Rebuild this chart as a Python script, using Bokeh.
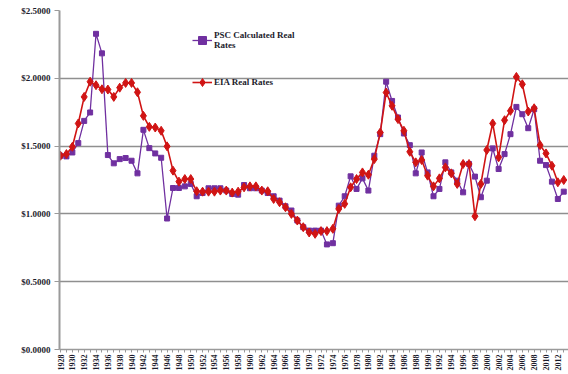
from bokeh.plotting import figure
from bokeh.models import (ColumnDataSource, FixedTicker, NumeralTickFormatter,
                          Legend, LegendItem)
from bokeh.embed import file_html
from bokeh.resources import INLINE
import math

years = list(range(1928, 2014))

psc_real = [1.429, 1.424, 1.453, 1.522, 1.686, 1.748, 2.328, 2.184, 1.434, 1.373,
            1.404, 1.412, 1.392, 1.299, 1.620, 1.485, 1.446, 1.414, 0.966, 1.191,
            1.191, 1.203, 1.221, 1.130, 1.154, 1.189, 1.189, 1.189, 1.172, 1.147,
            1.142, 1.213, 1.189, 1.189, 1.172, 1.154, 1.130, 1.098, 1.056, 1.025,
            0.951, 0.902, 0.877, 0.877, 0.877, 0.775, 0.784, 1.061, 1.130, 1.277,
            1.184, 1.262, 1.172, 1.429, 1.588, 1.975, 1.833, 1.711, 1.593, 1.507,
            1.299, 1.453, 1.306, 1.130, 1.184, 1.380, 1.306, 1.245, 1.159, 1.368,
            1.275, 1.123, 1.245, 1.483, 1.331, 1.441, 1.588, 1.789, 1.735, 1.632,
            1.772, 1.392, 1.360, 1.238, 1.110, 1.164]

eia_real = [1.429, 1.441, 1.495, 1.667, 1.863, 1.975, 1.949, 1.919, 1.917, 1.863,
            1.931, 1.966, 1.966, 1.897, 1.723, 1.642, 1.637, 1.613, 1.498, 1.319,
            1.238, 1.257, 1.257, 1.167, 1.164, 1.164, 1.164, 1.172, 1.172, 1.157,
            1.164, 1.196, 1.203, 1.203, 1.172, 1.167, 1.110, 1.086, 1.049, 1.000,
            0.951, 0.902, 0.863, 0.853, 0.873, 0.873, 0.890, 1.037, 1.074, 1.196,
            1.257, 1.306, 1.289, 1.404, 1.600, 1.895, 1.797, 1.699, 1.613, 1.458,
            1.380, 1.397, 1.282, 1.203, 1.262, 1.343, 1.299, 1.221, 1.368, 1.368,
            0.983, 1.221, 1.471, 1.667, 1.417, 1.691, 1.760, 2.010, 1.956, 1.755,
            1.779, 1.507, 1.446, 1.355, 1.233, 1.250]

y_ticks = [0.0, 0.5, 1.0, 1.5, 2.0, 2.5]

idx = list(range(len(years)))
src = ColumnDataSource(dict(x=idx, year=years, psc=psc_real, eia=eia_real))

p = figure(width=568, height=374, output_backend="svg", toolbar_location=None,
           x_range=(-0.17, 85.8), y_range=(0, 2.5),
           min_border_left=59, min_border_right=0, min_border_top=10,
           min_border_bottom=25)
p.outline_line_color = None
p.background_fill_color = "white"
p.border_fill_color = "white"

PURPLE = "#7030A0"
RED = "#D01414"

l1 = p.line("x", "psc", source=src, line_color=PURPLE, line_width=1.3)
m1 = p.scatter("x", "psc", source=src, marker="square", size=5,
               fill_color=PURPLE, line_color=PURPLE)
l2 = p.line("x", "eia", source=src, line_color=RED, line_width=1.6)
m2 = p.scatter("x", "eia", source=src, marker="diamond", size=9,
               fill_color=RED, line_color=RED)

# axes
p.yaxis.ticker = FixedTicker(ticks=y_ticks)
p.yaxis.formatter = NumeralTickFormatter(format="$0.0000")
p.yaxis.major_label_text_font = "Liberation Serif"
p.yaxis.major_label_text_font_size = "9px"
p.yaxis.major_label_text_font_style = "bold"
p.yaxis.major_label_text_color = "#1c1c2c"
p.yaxis.axis_line_color = "#9a9a9a"
p.yaxis.axis_line_width = 2
p.yaxis.major_tick_line_color = "#9a9a9a"
p.yaxis.major_tick_out = 5
p.yaxis.major_tick_in = 0
p.yaxis.minor_tick_line_color = None
p.yaxis.major_label_standoff = 4

p.xaxis.ticker = FixedTicker(ticks=idx)
p.xaxis.major_label_overrides = {i: (str(y) if i % 2 == 0 else "") for i, y in zip(idx, years)}
p.xaxis.major_label_orientation = math.pi / 2
p.xaxis.major_label_text_font = "Liberation Serif"
p.xaxis.major_label_text_font_size = "8px"
p.xaxis.major_label_text_font_style = "bold"
p.xaxis.major_label_text_color = "#1c1c2c"
p.xaxis.axis_line_color = "#9a9a9a"
p.xaxis.axis_line_width = 1.5
p.xaxis.major_tick_line_color = "#9a9a9a"
p.xaxis.major_tick_out = 3
p.xaxis.major_tick_in = 0
p.xaxis.minor_tick_line_color = None
p.xaxis.major_label_standoff = 2

p.xgrid.grid_line_color = None
p.ygrid.ticker = FixedTicker(ticks=y_ticks)
p.ygrid.grid_line_color = "#8f8f8f"
p.ygrid.grid_line_width = 1.6

legend = Legend(items=[
    LegendItem(label="PSC Calculated Real\nRates", renderers=[l1, m1]),
    LegendItem(label="EIA Real Rates", renderers=[l2, m2]),
], location=(133, 257))
legend.background_fill_alpha = 0
legend.border_line_color = None
legend.label_text_font = "Liberation Serif"
legend.label_text_font_size = "9px"
legend.label_text_font_style = "bold"
legend.label_text_color = "#1c1c2c"
legend.glyph_width = 20
legend.label_standoff = 2
legend.spacing = 22
legend.padding = 4
legend.label_text_line_height = 1.2
p.add_layout(legend)

open("out.html", "w").write(file_html(p, INLINE))
